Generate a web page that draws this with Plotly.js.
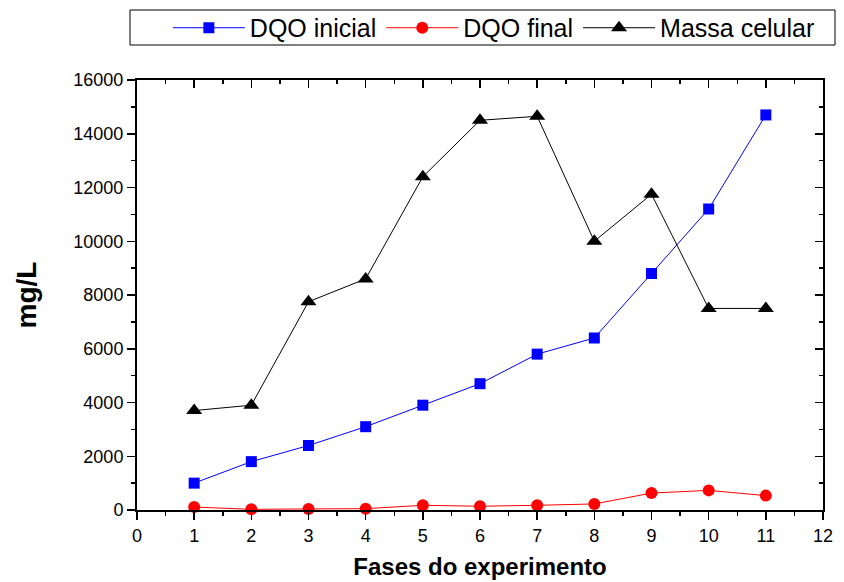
<!DOCTYPE html>
<html>
<head>
<meta charset="utf-8">
<script src="https://cdn.plot.ly/plotly-3.0.1.min.js"></script>
<style>html,body{margin:0;padding:0;background:#fff;}#chart{width:844px;height:582px;}</style>
</head>
<body>
<div id="chart"></div>
<script>
const fases = [1, 2, 3, 4, 5, 6, 7, 8, 9, 10, 11];
const dqoInicial = [1000, 1800, 2400, 3100, 3900, 4700, 5800, 6400, 8800, 11200, 14700];
const dqoFinal = [110, 25, 40, 50, 175, 140, 175, 225, 630, 730, 535];
const massaCelular = [3700, 3900, 7750, 8600, 12400, 14500, 14650, 10000, 11750, 7500, 7500];
const seriesNames = ['DQO inicial', 'DQO final', 'Massa celular'];

const F = '"Liberation Sans", Arial, sans-serif';

const traces = [
  {x: fases, y: dqoInicial, name: seriesNames[0], type: 'scatter', mode: 'lines+markers', cliponaxis: false,
   line: {color: '#0000ff', width: 1}, marker: {symbol: 'square', size: 11, color: '#0000ff'}},
  {x: fases, y: dqoFinal, name: seriesNames[1], type: 'scatter', mode: 'lines+markers', cliponaxis: false,
   line: {color: '#ff0000', width: 1}, marker: {symbol: 'circle', size: 12, color: '#ff0000'}},
  {x: fases, y: massaCelular, name: seriesNames[2], type: 'scatter', mode: 'lines+markers', cliponaxis: false,
   line: {color: '#000000', width: 1}, marker: {symbol: 'triangle-up', size: 14, color: '#000000'}},
  {x: [], y: [], xaxis: 'x2', yaxis: 'y2', showlegend: false, hoverinfo: 'skip', type: 'scatter'}
];

const layout = {
  width: 844, height: 582,
  margin: {l: 137, r: 21, t: 80, b: 72, autoexpand: false},
  paper_bgcolor: '#fff', plot_bgcolor: '#fff',
  font: {family: F, size: 18, color: '#000'},
  showlegend: true,
  legend: {
    orientation: 'h', x: 0.045, xanchor: 'left', y: 1.121, yanchor: 'middle',
    borderwidth: 0, bgcolor: 'rgba(0,0,0,0)',
    font: {family: F, size: 25, color: '#000'}, itemwidth: 72,
    traceorder: 'normal'
  },
  shapes: [{
    type: 'rect', xref: 'paper', yref: 'paper',
    x0: (130 - 137) / 686, x1: (835 - 137) / 686,
    y0: 1 + (80 - 45) / 430, y1: 1 + (80 - 10) / 430,
    line: {color: '#000', width: 1}, fillcolor: 'rgba(0,0,0,0)', layer: 'below'
  }],
  xaxis: {
    range: [0, 12], dtick: 1, tick0: 0, ticks: 'outside', ticklen: 8, tickwidth: 1.5, tickcolor: '#000',
    showline: true, linewidth: 2, linecolor: '#000', showgrid: false, zeroline: false,
    minor: {dtick: 0.5, ticks: 'outside', ticklen: 4, tickwidth: 1.5, tickcolor: '#000', showgrid: false},
    tickfont: {family: F, size: 18},
    title: {text: '<b>Fases do experimento</b>', font: {family: F, size: 24}, standoff: 14}
  },
  yaxis: {
    range: [0, 16000], dtick: 2000, tick0: 0, ticks: 'outside', ticklen: 8, tickwidth: 1.5, tickcolor: '#000',
    showline: true, linewidth: 2, linecolor: '#000', showgrid: false, zeroline: false,
    tickformat: 'd', exponentformat: 'none', separatethousands: false,
    minor: {dtick: 1000, ticks: 'outside', ticklen: 4, tickwidth: 1.5, tickcolor: '#000', showgrid: false},
    tickfont: {family: F, size: 18},
    title: {text: '<b>mg/L</b>', font: {family: F, size: 28}, standoff: 29}
  },
  xaxis2: {
    overlaying: 'x', side: 'top', anchor: 'y', range: [0, 12], dtick: 1, tick0: 0,
    ticks: 'inside', ticklen: 8, tickwidth: 1.5, tickcolor: '#000', showticklabels: false,
    showline: true, linewidth: 2, linecolor: '#000', showgrid: false, zeroline: false,
    minor: {dtick: 0.5, ticks: 'inside', ticklen: 4, tickwidth: 1.5, tickcolor: '#000', showgrid: false}
  },
  yaxis2: {
    overlaying: 'y', side: 'right', anchor: 'x', range: [0, 16000], dtick: 2000, tick0: 0,
    ticks: 'inside', ticklen: 8, tickwidth: 1.5, tickcolor: '#000', showticklabels: false,
    showline: true, linewidth: 2, linecolor: '#000', showgrid: false, zeroline: false,
    minor: {dtick: 1000, ticks: 'inside', ticklen: 4, tickwidth: 1.5, tickcolor: '#000', showgrid: false}
  }
};

Plotly.newPlot('chart', traces, layout, {staticPlot: true, displayModeBar: false});
</script>
</body>
</html>
